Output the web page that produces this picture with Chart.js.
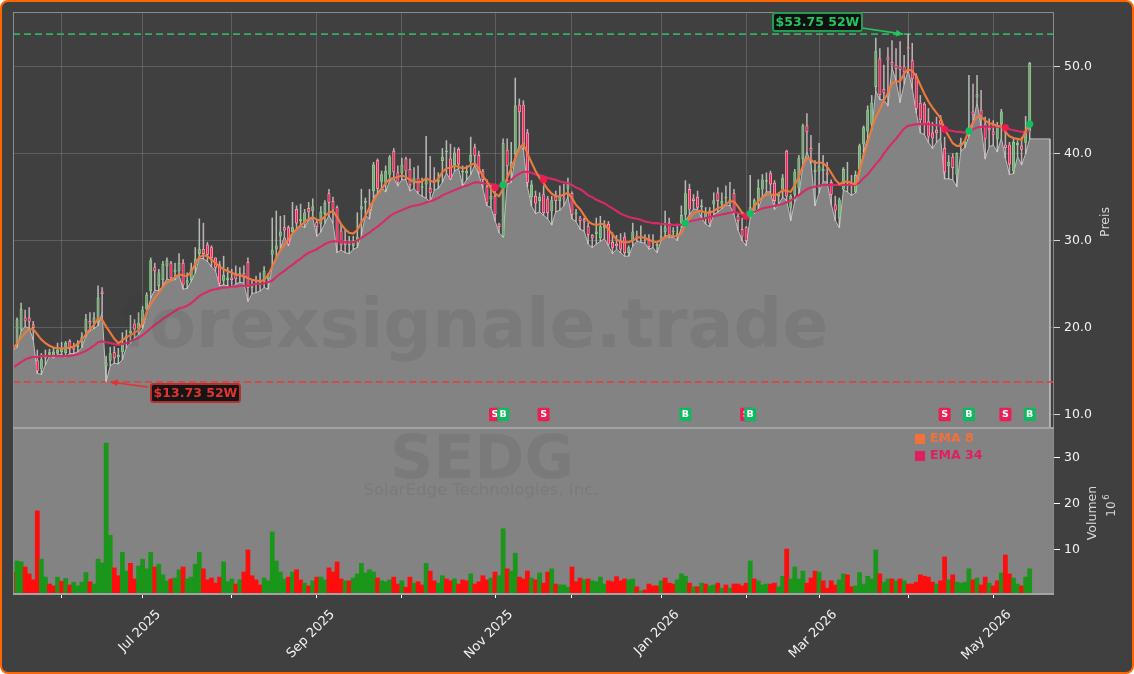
<!DOCTYPE html>
<html><head><meta charset="utf-8">
<style>
html,body{margin:0;padding:0;background:#fff;}
#frame{position:relative;width:1134px;height:674px;box-sizing:border-box;background:#404040;border:2.5px solid #ff6600;border-radius:8px;overflow:hidden;}
#c{position:absolute;left:-2.5px;top:-2.5px;}
</style>
<script src="https://cdn.jsdelivr.net/npm/chart.js@4"></script>
</head><body><div id="frame"><canvas id="c" width="1134" height="674"></canvas></div>
<script>
const opens=[
17.5,18.2,19.8,21.1,21.1,20.3,16.2,15.3,16.5,16.9,
16.7,17.0,17.2,17.1,18.4,17.8,17.8,18.3,19.6,20.7,
20.6,20.7,24.1,15.6,16.2,17.1,16.6,17.2,18.8,19.4,
20.4,19.9,20.5,22.1,24.2,26.9,24.8,25.5,27.1,27.4,
26.4,26.5,27.4,25.1,25.5,27.2,28.5,29.0,29.5,29.2,
28.0,27.2,25.4,25.5,25.7,26.2,25.9,26.2,27.5,24.6,
25.1,24.9,25.3,25.6,28.4,29.0,30.5,31.5,31.5,31.0,
33.6,32.3,32.1,33.7,33.4,32.1,31.9,33.1,35.4,34.5,
33.8,31.1,29.7,29.5,29.4,30.0,33.6,34.4,33.6,35.7,
39.2,36.8,36.7,37.6,40.3,37.8,37.8,39.4,38.2,36.6,
37.2,36.1,36.5,36.0,37.0,36.8,39.2,40.2,39.4,38.7,
40.5,37.9,37.8,39.1,40.7,39.8,38.0,36.2,34.8,35.1,
31.9,30.5,40.4,38.3,40.0,45.6,45.6,42.4,35.0,35.1,
34.6,35.3,34.8,33.4,35.1,34.6,34.9,36.0,35.4,33.1,
32.6,32.4,31.6,30.6,30.8,30.3,31.5,31.9,29.8,29.6,
29.9,30.4,28.6,30.0,30.5,30.3,30.4,30.0,29.9,29.4,
30.4,31.0,32.0,31.0,30.6,32.0,33.0,35.9,34.8,35.0,
33.9,32.6,33.4,34.2,35.5,34.2,34.9,34.5,35.4,32.8,
31.3,31.5,33.2,33.4,34.6,35.9,36.8,37.7,36.6,35.1,
35.9,40.3,33.8,35.3,36.1,39.4,43.2,40.6,37.9,38.0,
38.0,37.8,36.7,34.1,32.6,35.9,36.3,36.5,35.6,38.2,
41.1,42.6,43.4,47.7,50.9,47.4,51.1,50.5,50.2,50.0,
50.0,52.2,50.7,48.9,45.8,45.7,43.7,42.4,42.7,43.8,
40.6,38.6,39.6,37.6,41.0,41.1,42.4,44.8,46.5,45.0,
43.4,42.9,42.5,41.7,43.4,41.0,41.0,38.0,41.0,40.9,
41.3,42.6];
const closes=[
18.0,20.9,22.1,20.8,20.7,20.0,15.0,16.3,16.7,17.1,
17.2,17.4,17.6,18.2,17.6,17.5,18.2,18.9,20.9,20.5,
21.1,23.4,23.9,15.9,17.0,16.5,16.8,18.2,19.0,19.6,
19.8,20.5,22.0,23.7,27.7,26.5,26.3,27.3,27.7,25.7,
26.6,27.4,24.9,25.4,26.7,27.9,29.0,28.5,28.4,28.0,
26.9,25.1,26.0,25.7,25.5,25.6,26.2,25.7,24.6,24.8,
25.0,25.4,26.5,25.9,28.9,29.4,31.0,31.2,29.6,31.5,
32.0,32.4,33.2,33.3,33.9,31.6,33.3,34.3,34.4,33.6,
30.0,29.5,29.5,29.6,29.7,30.4,33.9,34.5,33.4,38.7,
36.0,37.6,38.0,39.6,37.9,36.7,38.7,38.0,36.4,37.2,
35.6,36.2,36.9,35.5,36.8,37.0,39.6,40.3,37.1,40.1,
38.8,38.0,38.0,39.8,39.8,37.9,37.0,34.4,35.1,33.0,
31.6,41.2,38.6,39.0,45.5,44.8,41.0,36.7,36.4,34.3,
35.0,33.2,33.2,34.6,34.6,35.1,34.8,36.5,33.0,33.2,
32.3,32.2,30.7,30.3,31.0,31.6,31.8,29.6,29.2,29.4,
29.0,28.6,29.2,31.0,30.4,30.5,30.3,29.3,29.8,29.6,
30.5,31.5,30.7,31.1,30.8,32.9,35.4,33.6,34.6,33.8,
34.0,33.3,32.0,34.6,34.6,34.5,35.0,34.7,33.2,32.3,
30.5,30.0,33.8,34.6,36.0,37.0,36.9,36.5,34.6,35.4,
37.2,35.1,35.1,37.9,39.5,43.2,42.5,40.3,38.1,38.5,
38.2,37.6,35.3,33.5,34.7,38.2,36.5,36.4,37.5,40.9,
43.0,45.0,45.8,51.8,46.8,47.0,50.8,50.2,49.8,49.7,
49.4,52.1,48.6,45.2,43.9,43.4,42.0,41.8,42.4,43.4,
37.9,39.0,38.4,40.0,41.2,41.3,43.0,44.5,46.8,44.4,
41.7,42.7,42.2,43.0,44.8,40.7,38.8,41.3,41.2,40.5,
42.6,50.4];
const highs=[
18.5,21.1,22.8,22.0,22.3,20.7,17.4,17.0,17.4,17.5,
17.6,18.2,18.3,18.4,18.6,18.2,18.5,19.4,21.5,21.7,
21.7,24.8,24.6,16.7,17.7,17.8,17.6,19.4,19.7,21.4,
20.9,21.7,22.4,24.0,28.0,27.4,26.7,27.6,28.0,27.6,
27.4,28.5,27.8,26.3,27.4,29.2,32.5,32.0,29.8,29.4,
28.0,27.6,28.2,26.9,26.7,27.1,26.9,27.1,28.0,25.5,
25.9,26.3,27.0,26.2,32.6,33.4,32.8,32.9,31.7,34.4,
34.0,34.2,33.6,34.4,34.8,32.5,33.9,34.6,35.9,35.0,
34.0,31.9,31.3,30.5,30.5,33.2,35.9,34.9,35.9,39.0,
39.4,38.0,38.6,39.8,40.6,38.6,39.5,39.6,39.4,38.4,
38.6,37.2,42.0,39.7,38.4,37.8,40.6,41.5,41.1,40.7,
40.7,38.6,38.6,41.9,41.1,40.3,38.2,37.0,36.5,36.5,
32.0,41.7,41.7,41.3,48.7,46.3,46.1,42.8,36.9,35.7,
35.5,36.3,35.1,35.1,35.7,36.3,36.5,37.2,35.6,33.6,
32.8,32.6,32.0,30.7,32.6,32.8,32.3,32.2,30.9,30.6,
30.8,30.9,29.4,32.0,31.1,31.7,30.7,30.7,30.7,29.8,
31.7,33.4,32.6,31.5,31.9,34.0,36.9,36.5,35.3,35.7,
34.7,33.8,33.8,35.5,36.1,35.5,36.3,36.7,35.9,33.2,
32.6,31.6,37.5,34.8,37.0,37.6,37.8,38.0,36.9,35.5,
37.6,40.4,35.3,38.2,39.8,43.4,44.6,42.1,39.2,41.2,
39.8,39.0,37.0,35.1,34.9,38.4,39.0,37.5,38.0,41.1,
43.2,45.5,46.7,53.3,52.1,50.2,52.2,53.0,52.1,52.9,
51.3,53.75,52.7,49.2,46.7,45.9,45.2,43.6,44.2,44.4,
41.9,39.8,40.0,40.1,41.8,41.5,49.0,48.0,49.0,47.3,
44.2,44.0,43.8,43.6,45.1,42.6,41.3,41.7,41.5,41.9,
44.3,50.5];
const lows=[
17.3,17.7,19.6,20.1,19.9,18.6,14.7,14.6,15.7,16.7,
16.5,16.8,16.9,16.6,17.0,17.0,17.2,17.7,19.0,19.6,
19.9,20.2,21.7,13.73,15.6,15.9,15.8,16.3,17.7,18.2,
18.8,19.2,19.9,21.5,23.4,24.3,24.2,24.8,25.6,25.4,
25.5,26.0,24.4,24.5,25.3,26.3,28.0,27.9,27.6,27.0,
26.5,24.8,24.9,24.8,24.6,25.0,25.2,25.1,23.0,23.9,
24.0,24.2,24.6,24.4,27.0,28.0,29.0,30.5,29.4,30.9,
31.4,31.8,31.5,32.4,32.6,30.5,31.0,32.0,32.9,32.0,
28.6,28.9,28.6,28.5,29.0,29.2,30.6,32.9,32.5,35.0,
35.5,36.1,35.6,36.9,37.2,36.3,37.0,37.0,35.7,36.0,
35.4,35.1,34.9,34.4,35.8,36.0,36.7,37.8,37.0,38.0,
38.3,36.3,37.0,37.6,38.7,37.6,36.0,34.0,33.8,32.3,
30.9,30.4,36.5,36.7,39.5,41.0,40.5,36.2,34.0,33.1,
33.3,32.9,32.5,31.8,33.3,33.5,34.0,35.0,32.5,32.2,
31.3,31.1,29.6,29.2,29.6,29.9,30.2,29.4,28.5,29.0,
28.6,28.2,28.2,29.4,29.9,29.8,29.7,29.0,29.2,28.6,
30.0,30.6,30.4,30.4,30.0,31.5,32.2,33.0,33.6,33.6,
32.6,31.9,31.6,33.0,33.3,33.7,34.1,34.0,33.0,31.2,
30.0,29.4,32.6,33.1,33.7,35.0,35.6,35.6,33.6,34.1,
35.0,34.6,32.3,34.5,35.2,38.5,40.2,38.9,34.0,35.5,
36.8,36.7,34.2,32.3,31.5,35.8,35.6,35.2,35.5,37.9,
40.2,41.8,42.7,47.2,46.2,46.2,45.5,49.9,48.4,45.9,
48.0,49.6,47.5,44.7,42.4,42.2,41.3,40.6,41.3,41.8,
37.1,37.1,37.0,36.2,40.3,40.7,42.0,43.5,45.9,43.1,
39.4,40.8,41.0,40.2,41.8,39.5,37.6,37.7,39.7,38.7,
40.0,41.7];
const areaTailX=[252,253,254,255,256,256];
const areaTailY=[41.7,41.7,41.7,41.7,41.7,8.43];
const ema8=[
17.4,18.2,18.8,19.4,19.8,19.8,19.2,18.6,18.2,17.9,
17.7,17.6,17.6,17.6,17.7,17.8,18.1,18.6,19.2,19.8,
20.3,21.0,20.9,20.1,19.4,18.7,18.2,18.5,18.9,19.1,
19.4,19.7,20.5,21.8,22.7,23.4,24.0,24.7,25.2,25.4,
25.8,26.1,26.0,25.9,26.4,27.3,28.1,28.3,28.2,27.8,
27.4,27.0,26.7,26.5,26.3,26.1,26.0,25.9,25.7,25.5,
25.4,25.3,25.5,26.0,27.0,28.0,28.9,29.5,30.2,30.8,
31.3,31.7,32.1,32.5,32.7,32.4,32.3,32.8,33.2,33.4,
32.7,31.9,31.3,30.9,30.8,31.2,32.1,32.8,33.8,34.6,
35.3,35.9,36.6,37.1,37.2,37.3,37.5,37.3,37.0,36.8,
36.7,36.8,37.2,36.9,36.7,37.1,37.9,38.3,38.4,38.6,
38.5,38.3,38.4,38.7,38.9,38.3,37.4,36.8,36.0,35.4,
35.1,36.0,37.2,38.3,39.5,40.6,41.1,40.0,39.0,38.0,
37.2,36.6,35.9,35.4,35.1,35.1,35.3,35.5,34.9,34.1,
33.6,32.9,32.2,31.9,31.8,31.9,31.9,31.3,30.7,30.1,
29.9,29.8,29.8,30.0,30.3,30.4,30.3,30.1,29.9,29.8,
30.1,30.4,30.6,30.5,30.5,30.8,31.8,32.6,33.1,33.4,
33.4,33.2,33.2,33.4,33.7,33.9,34.2,34.5,34.5,33.9,
33.2,32.9,33.2,33.9,34.5,35.0,35.3,35.3,35.2,35.4,
35.8,35.7,35.6,36.4,37.3,38.6,39.5,39.3,38.9,39.0,
38.9,38.5,37.8,37.0,36.5,36.7,36.8,36.6,36.5,38.1,
39.7,41.3,42.9,44.2,45.1,46.1,47.0,48.1,48.3,48.3,
49.2,49.7,49.5,48.9,47.9,46.9,46.0,45.3,44.7,44.1,
42.8,42.0,41.2,40.9,40.9,41.5,42.7,43.6,44.2,44.3,
43.8,43.5,43.4,43.2,43.1,42.5,42.0,41.8,41.7,41.6,
42.6,43.5];
const ema34=[
15.4,15.7,16.0,16.3,16.5,16.6,16.6,16.7,16.7,16.7,
16.7,16.7,16.7,16.7,16.7,16.8,16.9,17.1,17.3,17.6,
17.9,18.3,18.4,18.3,18.2,18.1,18.0,18.1,18.2,18.4,
18.6,18.8,19.1,19.5,19.9,20.3,20.6,21.0,21.3,21.6,
21.9,22.2,22.3,22.5,22.8,23.2,23.6,23.9,24.1,24.3,
24.4,24.5,24.6,24.6,24.7,24.7,24.8,24.8,24.8,24.9,
25.0,25.0,25.1,25.2,25.4,25.8,26.2,26.5,26.9,27.2,
27.6,27.9,28.3,28.6,28.8,29.0,29.3,29.6,29.8,29.9,
29.9,29.9,29.8,29.8,29.8,30.0,30.3,30.6,30.9,31.3,
31.6,32.0,32.4,32.8,33.1,33.3,33.5,33.7,33.9,34.0,
34.1,34.2,34.4,34.5,34.7,34.9,35.2,35.4,35.6,35.8,
36.0,36.2,36.3,36.5,36.7,36.7,36.6,36.5,36.5,36.4,
36.3,36.4,36.7,37.0,37.4,37.7,37.9,37.9,37.8,37.6,
37.5,37.4,37.2,37.1,37.0,36.8,36.7,36.6,36.4,36.1,
35.9,35.6,35.2,35.0,34.7,34.5,34.3,34.0,33.7,33.4,
33.1,32.9,32.7,32.6,32.5,32.4,32.2,32.1,32.0,32.0,
31.9,31.9,31.8,31.8,31.8,31.8,32.0,32.2,32.3,32.4,
32.5,32.6,32.7,32.8,32.9,33.0,33.1,33.2,33.3,33.2,
33.0,32.8,33.1,33.3,33.5,33.7,33.8,33.9,34.0,34.1,
34.2,34.4,34.6,34.9,35.2,35.6,35.9,36.1,36.2,36.3,
36.4,36.4,36.4,36.4,36.4,36.4,36.4,36.4,36.4,36.7,
37.2,37.6,38.2,38.8,39.3,40.0,40.6,41.2,41.7,42.3,
42.9,43.2,43.3,43.4,43.4,43.4,43.4,43.3,43.3,43.2,
42.9,42.7,42.6,42.5,42.5,42.4,42.5,42.8,43.0,43.1,
43.1,43.1,43.1,43.1,43.1,43.0,42.8,42.7,42.6,42.5,
42.5,42.6];
const volumes=[
5.1,7.6,7.4,6.3,4.8,3.5,18.5,8.0,4.1,2.6,
2.2,4.1,3.2,3.8,2.4,3.0,2.2,3.0,5.1,3.1,
2.6,8.0,7.2,33.2,13.2,6.1,4.4,9.5,5.4,7.1,
3.7,6.5,8.0,5.9,9.5,6.3,6.9,4.6,3.3,3.7,
3.9,5.7,6.3,3.7,4.1,6.9,9.5,5.9,3.5,3.9,
2.8,4.1,7.4,3.1,3.7,2.6,3.5,5.2,10.0,4.4,
3.5,2.4,3.9,3.3,13.9,7.6,5.2,3.7,4.1,5.2,
5.7,3.5,2.8,2.2,3.3,4.1,4.1,3.5,6.1,5.2,
7.4,3.7,3.3,3.3,3.9,4.8,7.1,5.0,5.7,5.2,
3.9,3.3,3.1,3.5,4.1,2.6,3.3,1.9,4.1,2.8,
3.1,2.4,7.1,5.4,3.3,2.8,4.4,3.7,3.3,3.7,
2.6,3.5,3.3,4.8,2.6,3.1,4.4,3.5,3.9,5.2,
4.4,14.6,5.9,5.4,9.3,4.1,3.7,5.4,3.9,3.5,
5.0,2.8,5.2,5.9,2.6,2.4,2.4,1.9,6.3,3.1,
3.9,3.5,3.7,3.3,3.1,4.1,2.6,3.3,3.1,4.2,
3.3,3.7,3.5,3.7,2.0,1.1,1.3,2.6,2.2,2.2,
3.3,3.9,2.8,2.6,3.5,4.8,4.3,2.8,2.0,2.0,
2.8,2.6,2.2,2.4,2.8,1.7,2.4,1.7,2.6,2.6,
2.2,2.8,7.6,3.7,3.3,2.4,2.6,2.6,2.8,2.0,
4.3,10.2,3.7,6.3,3.7,5.4,2.8,3.9,5.4,5.2,
3.3,1.7,3.3,2.4,3.5,4.8,4.6,2.0,2.2,5.1,
2.6,4.3,3.7,10.0,4.8,3.0,3.7,3.7,3.3,3.7,
3.3,2.6,2.6,3.0,4.6,4.3,4.1,3.0,2.6,3.3,
8.5,3.5,4.6,3.0,2.8,3.0,5.9,3.5,3.9,2.4,
4.1,2.8,2.2,3.3,5.0,8.9,4.8,3.9,2.6,2.2,
4.1,5.9];
const volUp=[
0,1,1,0,0,0,0,1,1,0,
0,1,0,1,0,1,1,1,1,0,
1,1,1,1,1,0,0,1,1,0,
0,1,1,1,1,0,1,1,1,0,
1,1,0,1,1,1,1,0,0,0,
0,0,1,1,1,0,1,0,0,0,
0,0,1,1,1,1,1,1,0,1,
0,0,1,0,1,0,1,1,0,0,
0,0,1,0,1,1,1,1,1,1,
0,1,1,1,0,0,1,0,0,1,
0,0,1,0,0,1,1,0,0,1,
0,0,0,1,0,0,0,0,1,0,
1,1,0,1,1,0,0,0,1,0,
1,0,0,1,0,1,1,1,0,0,
0,1,0,1,1,1,1,0,0,0,
0,0,1,1,0,1,0,0,0,0,
1,0,0,0,1,1,1,0,1,0,
1,0,1,1,0,1,0,1,0,0,
0,0,1,0,1,1,1,0,0,1,
1,0,1,1,1,1,0,0,0,1,
0,0,0,0,1,1,0,0,1,1,
1,1,1,1,0,1,1,0,1,0,
1,0,0,0,0,0,0,0,1,0,
0,1,0,1,1,1,1,0,1,0,
0,1,0,0,1,0,0,1,1,0,
1,1];
const sigIndex=[119,121,131,166,181,182,230,236,245,251];
const sigPrice=[36.1,36.4,37.0,32.0,32.8,33.1,42.8,42.6,43.0,43.4];
const sigKind=['S','B','S','B','S','B','S','B','S','B'];
const sigBadgeLevel=10;
const tickIndex=[12,32,54,75,96,119,138,160,181,199,221,242];
const tickLabels=['','Jul 2025','','Sep 2025','','Nov 2025','','Jan 2026','','Mar 2026','','May 2026'];
const priceTicks=[10,20,30,40,50];
const volTicks=[10,20,30];
const high52=53.75, low52=13.73, high52Index=221, low52Index=23;

const UP='#1a961a',DOWN='#ff0d0d';
const series=(a,f)=>a.map((v,i)=>({x:i,y:f?f(v,i):v}));

const overlay={
 id:'overlay',
 beforeDatasetsDraw(ch){
  const {ctx,chartArea:a}=ch, v=ch.scales.v;
  ctx.save();ctx.fillStyle='#838383';
  ctx.fillRect(a.left,v.top,a.right-a.left,v.bottom-v.top);
  ctx.restore();
 },
 afterDatasetsDraw(ch){
  const {ctx,chartArea:a,scales:{x,y,v}}=ch;
  ctx.save();
  ctx.strokeStyle='#8c8c8c';ctx.lineWidth=1;
  ctx.strokeRect(a.left+.5,a.top+.5,a.right-a.left-1,a.bottom-a.top-1);
  ctx.strokeStyle='#a3a3a3';ctx.lineWidth=2;
  ctx.beginPath();ctx.moveTo(a.left,v.top);ctx.lineTo(a.right,v.top);ctx.stroke();
  ctx.beginPath();ctx.moveTo(a.left,a.bottom);ctx.lineTo(a.right,a.bottom);ctx.stroke();
  ctx.textBaseline='middle';ctx.textAlign='center';
  ctx.fillStyle='rgba(50,50,50,0.1)';
  ctx.font='bold 68px "DejaVu Sans"';
  ctx.fillText('forexsignale.trade',474,329);
  ctx.font='bold 60px "DejaVu Sans"';
  ctx.fillText('SEDG',482,462);
  ctx.font='16.5px "DejaVu Sans"';
  ctx.fillText('SolarEdge Technologies, Inc.',481,491);
  ctx.font='bold 9.5px "DejaVu Sans"';
  sigIndex.forEach((idx,k)=>{
   const px=x.getPixelForValue(idx),py=y.getPixelForValue(sigBadgeLevel);
   ctx.fillStyle=sigKind[k]==='S'?'#ea1f58':'#10b960';
   ctx.beginPath();ctx.roundRect(px-6,py-6.5,12,13.5,1.5);ctx.fill();
   ctx.fillStyle='#fff';ctx.fillText(sigKind[k],px,py+.5);
  });
  const callout=(txt,tx,ty,bx,by,fg,border,fx,fy)=>{
   ctx.strokeStyle=fg;ctx.fillStyle=fg;ctx.lineWidth=1.6;
   ctx.beginPath();ctx.moveTo(fx,fy);ctx.lineTo(tx,ty);ctx.stroke();
   const ang=Math.atan2(ty-fy,tx-fx);
   ctx.beginPath();ctx.moveTo(tx,ty);
   ctx.lineTo(tx-8*Math.cos(ang-.45),ty-8*Math.sin(ang-.45));
   ctx.lineTo(tx-8*Math.cos(ang+.45),ty-8*Math.sin(ang+.45));ctx.closePath();ctx.fill();
   ctx.beginPath();ctx.roundRect(bx,by,89,18,2.5);
   ctx.fillStyle='rgba(12,12,12,.92)';ctx.fill();
   ctx.strokeStyle=border;ctx.lineWidth=2;ctx.stroke();
   ctx.font='bold 12.5px "DejaVu Sans"';ctx.fillStyle=fg;
   ctx.fillText(txt,bx+44.5,by+9.5);
  };
  callout('$'+high52+' 52W',x.getPixelForValue(high52Index)-5,y.getPixelForValue(high52),773,13,'#22c55e','#249a52',862,28);
  callout('$'+low52+' 52W',x.getPixelForValue(low52Index)+4,y.getPixelForValue(low52),151,384,'#e5322f','#b5302e',148,387);
  ctx.textAlign='left';ctx.font='bold 12.5px "DejaVu Sans"';
  ctx.fillStyle='#f4703a';ctx.fillRect(915,434,10,10);ctx.fillText('EMA 8',930,438.5);
  ctx.fillStyle='#e0205e';ctx.fillRect(915,451,10,10);ctx.fillText('EMA 34',930,455.5);
  const rot=(txt,px,py,font,col)=>{ctx.save();ctx.translate(px,py);ctx.rotate(-Math.PI/2);
   ctx.textAlign='center';ctx.textBaseline='middle';ctx.font=font;ctx.fillStyle=col;ctx.fillText(txt,0,0);ctx.restore();};
  rot('Preis',1106,222,'12.5px "DejaVu Sans"','#d8d8d8');
  rot('Volumen',1093,513,'12.5px "DejaVu Sans"','#d8d8d8');
  rot('10',1112,509,'12px "DejaVu Sans"','#d8d8d8');
  rot('6',1107,497,'8.5px "DejaVu Sans"','#d8d8d8');
  ctx.restore();
 }
};

new Chart(document.getElementById('c'),{
 plugins:[overlay],
 data:{datasets:[
  {type:'line',label:'sig',data:sigIndex.map((v,i)=>({x:v,y:sigPrice[i]})),showLine:false,pointRadius:3.6,
   pointBackgroundColor:sigKind.map(k=>k==='S'?'#f01a50':'#10c060'),pointBorderWidth:0,yAxisID:'y',xAxisID:'x'},
  {type:'line',label:'EMA 8',data:series(ema8),borderColor:'#ec7a3e',borderWidth:2.1,pointRadius:0,tension:0,yAxisID:'y',xAxisID:'x'},
  {type:'line',label:'EMA 34',data:series(ema34),borderColor:'#d62b68',borderWidth:2.1,pointRadius:0,tension:0,yAxisID:'y',xAxisID:'x'},
  {type:'bar',label:'body',data:series(opens,(o,i)=>[o,closes[i]]),barThickness:2.4,grouped:false,borderSkipped:false,borderWidth:.7,
   backgroundColor:opens.map((o,i)=>closes[i]>=o?'#8f9a8f':'#ec2a60'),
   borderColor:opens.map((o,i)=>closes[i]>=o?'#7fe87f':'#ffb0c0'),yAxisID:'y',xAxisID:'x'},
  {type:'bar',label:'wick',data:series(lows,(l,i)=>[l,highs[i]]),barThickness:.9,grouped:false,borderSkipped:false,borderWidth:0,
   backgroundColor:opens.map((o,i)=>closes[i]>=o?'rgba(205,218,205,.8)':'rgba(224,200,206,.8)'),yAxisID:'y',xAxisID:'x'},
  {type:'line',label:'52W high',data:[{x:0,y:high52},{x:257,y:high52}],borderColor:'#37ad62',borderWidth:1.7,borderDash:[7,4],pointRadius:0,yAxisID:'y',xAxisID:'x'},
  {type:'line',label:'52W low',data:[{x:0,y:low52},{x:257,y:low52}],borderColor:'#d94545',borderWidth:1.7,borderDash:[7,4],pointRadius:0,yAxisID:'y',xAxisID:'x'},
  {type:'line',label:'area',data:series(lows).concat(areaTailX.map((v,i)=>({x:v,y:areaTailY[i]}))),borderColor:'#bcbcbc',borderWidth:1,backgroundColor:'#838383',fill:'start',pointRadius:0,tension:0,yAxisID:'y',xAxisID:'x'},
  {type:'bar',label:'Volumen',data:series(volumes),barThickness:4.1,grouped:false,borderWidth:0,
   backgroundColor:volUp.map(u=>u?UP:DOWN),yAxisID:'v',xAxisID:'x'}
 ]},
 options:{
  responsive:false,animation:false,events:[],devicePixelRatio:1,
  layout:{padding:{left:13,top:12,right:0,bottom:0}},
  plugins:{legend:{display:false},tooltip:{enabled:false}},
  scales:{
   x:{type:'linear',position:'bottom',min:0,max:257,offset:false,
    grid:{offset:false,color:'rgba(255,255,255,.2)',lineWidth:.8,tickColor:'#fff',tickLength:4,tickWidth:1},
    border:{display:false},
    afterBuildTicks:ax=>{ax.ticks=tickIndex.map(v=>({value:v}));},
    afterFit:ax=>{ax.height=80;},
    ticks:{autoSkip:false,minRotation:45,maxRotation:45,labelOffset:16,padding:9,color:'#f2f2f2',font:{family:'DejaVu Sans',size:13},
     callback:(v,i)=>tickLabels[i]}},
   y:{type:'linear',position:'right',stack:'main',stackWeight:416,min:8.43,max:56.30,
    grid:{color:'rgba(255,255,255,.2)',lineWidth:.8,tickColor:'#fff',tickLength:6},
    border:{display:false},
    afterBuildTicks:ax=>{ax.ticks=priceTicks.map(v=>({value:v}));},
    afterFit:ax=>{ax.width=80;},
    ticks:{padding:4,color:'#f2f2f2',font:{family:'DejaVu Sans',size:12.5},callback:v=>v.toFixed(1)}},
   v:{type:'linear',position:'right',stack:'main',stackWeight:166,min:0.43,max:36.5,
    grid:{display:true,drawOnChartArea:false,tickColor:'#fff',tickLength:6},
    border:{display:false},
    afterBuildTicks:ax=>{ax.ticks=volTicks.map(v=>({value:v}));},
    afterFit:ax=>{ax.width=80;},
    ticks:{padding:4,color:'#f2f2f2',font:{family:'DejaVu Sans',size:12.5},callback:v=>String(v)}}
  }
 }
});
</script></body></html>
